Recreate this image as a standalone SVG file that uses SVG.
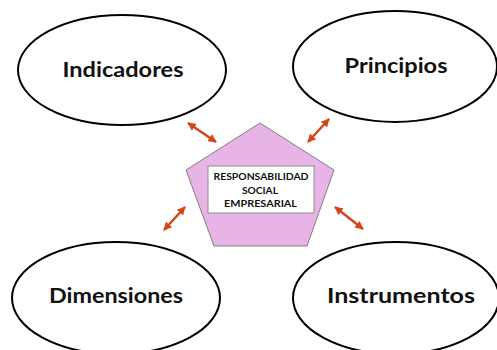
<svg xmlns="http://www.w3.org/2000/svg" width="497" height="350" viewBox="0 0 497 350">
<style>
.ell{fill:#fff;stroke:#000;stroke-width:2}
.lbl{font-family:Lato,"Open Sans",sans-serif;font-weight:bold;font-size:20px;fill:#111;text-anchor:middle}
.ctr{font-family:Lato,"Open Sans",sans-serif;font-weight:bold;font-size:10px;fill:#111;text-anchor:middle}
.arr{stroke:#D2461A;stroke-width:2.5;fill:none;marker-start:url(#ah);marker-end:url(#ah)}
</style>
<defs>
<marker id="ah" viewBox="0 0 10 10" refX="9" refY="5" markerWidth="3.4" markerHeight="3.4" orient="auto-start-reverse" markerUnits="strokeWidth">
<path d="M0,0 L10,5 L0,10 z" fill="#D2461A"/>
</marker>
</defs>
<rect width="497" height="350" fill="#fff"/>
<g id="indicadores">
<ellipse class="ell" cx="122" cy="70" rx="104" ry="55"/>
<text class="lbl" x="123" y="77" textLength="121" lengthAdjust="spacingAndGlyphs">Indicadores</text>
</g>
<g id="principios">
<ellipse class="ell" cx="395" cy="66.5" rx="102" ry="55.5"/>
<text class="lbl" x="396" y="73" textLength="103" lengthAdjust="spacingAndGlyphs">Principios</text>
</g>
<g id="dimensiones">
<ellipse class="ell" cx="116" cy="298" rx="104" ry="56"/>
<text class="lbl" x="116" y="303" textLength="134" lengthAdjust="spacingAndGlyphs">Dimensiones</text>
</g>
<g id="instrumentos">
<ellipse class="ell" cx="396" cy="298" rx="103" ry="56"/>
<text class="lbl" x="401" y="303" textLength="148" lengthAdjust="spacingAndGlyphs">Instrumentos</text>
</g>
<g id="rse">
<polygon points="260,123 334,170 307,246 214,246 186,170" fill="#E8B4E6" stroke="#7F7F7F" stroke-width="1"/>
<rect x="208" y="166" width="106" height="47" fill="#fff" stroke="#8C8C8C" stroke-width="1"/>
<text class="ctr" x="261" y="180" textLength="95" lengthAdjust="spacingAndGlyphs">RESPONSABILIDAD</text>
<text class="ctr" x="260" y="193.5" textLength="36" lengthAdjust="spacingAndGlyphs">SOCIAL</text>
<text class="ctr" x="260.5" y="207" textLength="73" lengthAdjust="spacingAndGlyphs">EMPRESARIAL</text>
</g>
<g id="connectors">
<line class="arr" x1="188" y1="123" x2="216" y2="142"/>
<line class="arr" x1="329" y1="119" x2="308" y2="142"/>
<line class="arr" x1="185" y1="207" x2="164" y2="230"/>
<line class="arr" x1="335" y1="207" x2="363" y2="229"/>
</g>
</svg>
